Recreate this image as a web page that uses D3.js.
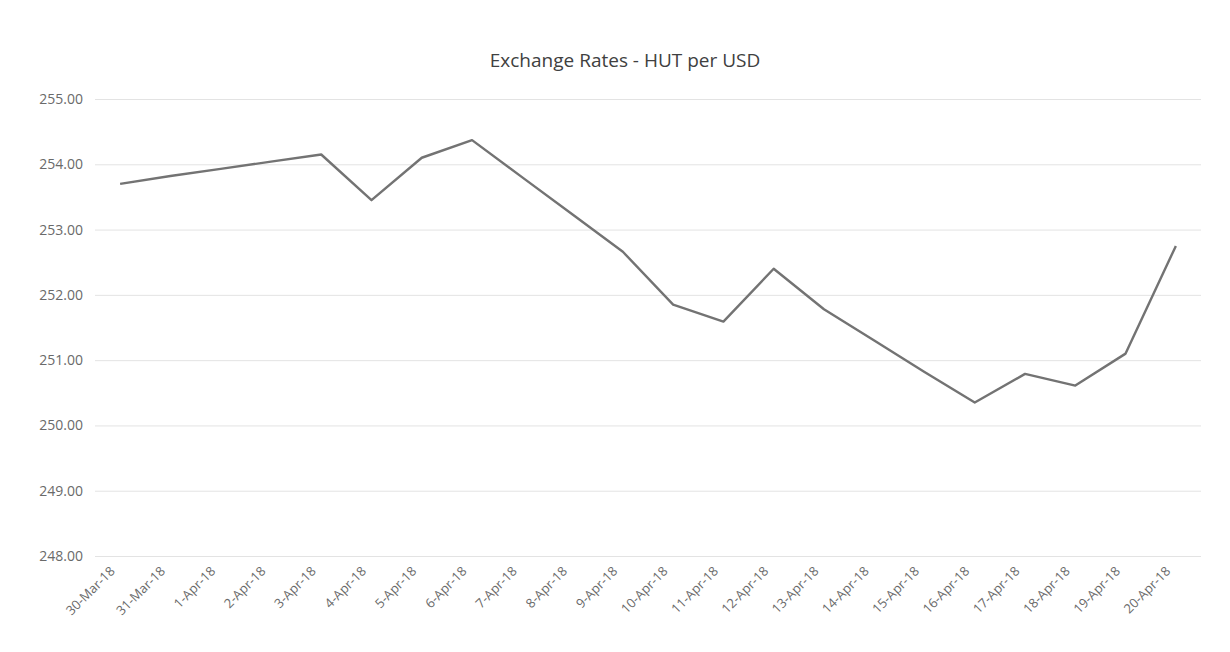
<!DOCTYPE html>
<html>
<head>
<meta charset="utf-8">
<script src="https://cdn.jsdelivr.net/npm/d3@7"></script>
<style>
	body { margin: 0; background: #fff; }
	svg text { font-family: 'Open Sans', 'Noto Sans', sans-serif; }
</style>
</head>
<body>
<div id="chart"></div>
<script>
// data
const dates = ['30-Mar-18', '31-Mar-18', '1-Apr-18', '2-Apr-18', '3-Apr-18', '4-Apr-18', '5-Apr-18',
	'6-Apr-18', '7-Apr-18', '8-Apr-18', '9-Apr-18', '10-Apr-18', '11-Apr-18', '12-Apr-18',
	'13-Apr-18', '14-Apr-18', '15-Apr-18', '16-Apr-18', '17-Apr-18', '18-Apr-18', '19-Apr-18', '20-Apr-18'];
const rates = [253.70, 253.82, 253.93, 254.04, 254.15, 253.45, 254.10,
	254.37, 253.80, 253.23, 252.66, 251.85, 251.59, 252.40,
	251.78, 251.30, 250.82, 250.35, 250.79, 250.61, 251.10, 252.75];
const yTicks = [248, 249, 250, 251, 252, 253, 254, 255];
const title = 'Exchange Rates - HUT per USD';

const width = 1230, height = 652;
const margin = { top: 99, right: 29, bottom: 96, left: 95 };

const svg = d3.select('#chart').append('svg')
	.attr('width', width)
	.attr('height', height);

const x = d3.scalePoint()
	.domain(dates)
	.range([margin.left, width - margin.right])
	.padding(0.5);

const y = d3.scaleLinear()
	.domain([248, 255])
	.range([height - margin.bottom, margin.top]);

//
// title
//
svg.append('text')
	.attr('x', 625)
	.attr('y', 67)
	.attr('text-anchor', 'middle')
	.style('font-size', '19px')
	.style('fill', '#404040')
	.text(title);

//
// gridlines + y labels
//
const yAxis = svg.append('g')
	.attr('transform', `translate(${margin.left},0)`)
	.call(d3.axisLeft(y)
		.tickValues(yTicks)
		.tickSize(-(width - margin.left - margin.right))
		.tickPadding(12)
		.tickFormat(d3.format('.2f')));

yAxis.select('.domain').remove();
yAxis.selectAll('line').attr('stroke', '#e3e3e3').attr('stroke-width', 1);
yAxis.selectAll('text')
	.style('font-size', '14px')
	.style('fill', '#6a6a6a');

//
// x labels
//
const xAxis = svg.append('g')
	.attr('transform', `translate(0,${height - margin.bottom})`)
	.call(d3.axisBottom(x).tickSize(0).tickPadding(0));

xAxis.select('.domain').remove();
xAxis.selectAll('text')
	.attr('text-anchor', 'end')
	.attr('dy', null)
	.attr('transform', 'translate(-5,16) rotate(-45)')
	.style('font-size', '13px')
	.style('fill', '#6a6a6a');

//
// line
//
const line = d3.line()
	.x((d, i) => x(dates[i]))
	.y(d => y(d));

svg.append('path')
	.datum(rates)
	.attr('d', line)
	.attr('fill', 'none')
	.attr('stroke', '#737373')
	.attr('stroke-width', 2.4)
	.attr('stroke-linejoin', 'round');
</script>
</body>
</html>
